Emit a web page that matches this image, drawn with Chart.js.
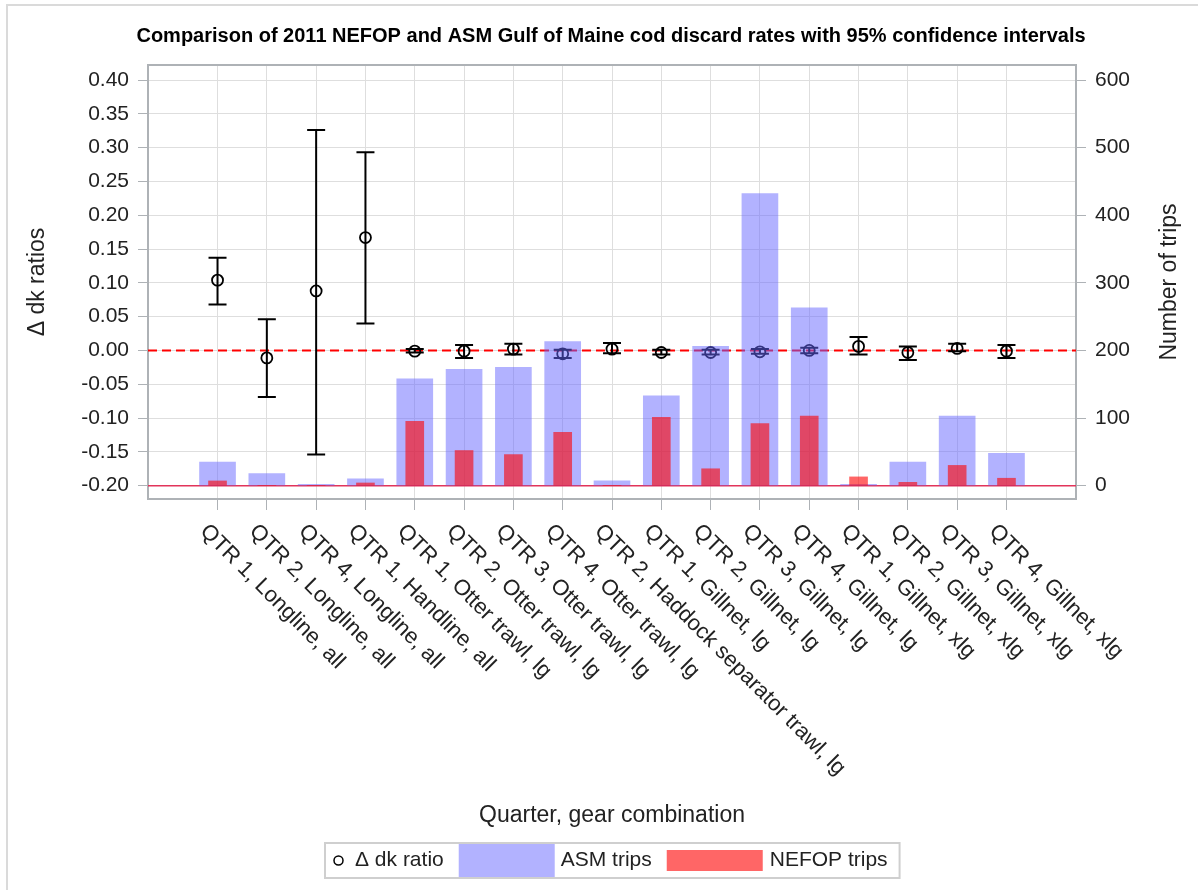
<!DOCTYPE html>
<html lang="en">
<head>
  <meta charset="UTF-8">
  <title>GOM cod discard rates, NEFOP vs ASM</title>
  <script src="https://cdn.jsdelivr.net/npm/chart.js"></script>
  <style>
    html, body { margin: 0; padding: 0; background: #fff; }
    #wrap { width: 1198px; height: 890px; }
  </style>
</head>
<body>
  <div id="wrap"><canvas id="discardChart" width="1198" height="890"></canvas></div>

  <script>
    // Quarter / gear combinations (x axis)
    const categories = [
      'QTR 1, Longline, all', 'QTR 2, Longline, all', 'QTR 4, Longline, all',
      'QTR 1, Handline, all', 'QTR 1, Otter trawl, lg', 'QTR 2, Otter trawl, lg',
      'QTR 3, Otter trawl, lg', 'QTR 4, Otter trawl, lg', 'QTR 2, Haddock separator trawl, lg',
      'QTR 1, Gillnet, lg', 'QTR 2, Gillnet, lg', 'QTR 3, Gillnet, lg', 'QTR 4, Gillnet, lg',
      'QTR 1, Gillnet, xlg', 'QTR 2, Gillnet, xlg', 'QTR 3, Gillnet, xlg', 'QTR 4, Gillnet, xlg'
    ];

    // delta dk ratio with 95% CI (left axis)
    const dkRatio = [0.104, -0.011, 0.088, 0.167, -0.001, -0.001, 0.002, -0.005, 0.002,
                     -0.003, -0.003, -0.002, 0.000, 0.006, -0.003, 0.003, -0.001];
    const dkLower = [0.068, -0.069, -0.154, 0.040, -0.003, -0.011, -0.006, -0.011, -0.004,
                     -0.006, -0.006, -0.005, -0.004, -0.006, -0.014, -0.001, -0.011];
    const dkUpper = [0.137, 0.046, 0.326, 0.293, 0.002, 0.008, 0.010, 0.001, 0.011,
                     0.001, 0.001, 0.002, 0.004, 0.020, 0.006, 0.010, 0.008];

    // number of trips (right axis)
    const asmTrips   = [35, 18, 2, 10, 158, 172, 175, 213, 7, 133, 206, 432, 263, 2, 35, 103, 48];
    const nefopTrips = [7, 0, 0, 4, 95, 52, 46, 79, 0, 101, 25, 92, 103, 13, 5, 30, 11];

    // tick labels
    const ratioTicks = [-0.20, -0.15, -0.10, -0.05, 0.00, 0.05, 0.10, 0.15, 0.20, 0.25, 0.30, 0.35, 0.40];
    const tripTicks = [0, 100, 200, 300, 400, 500, 600];

    const FONT = '"Liberation Sans", Arial, sans-serif';
    const TEXT = '#222';
    const FRAME = '#aeb2b6';
    const GRID = '#dedede';

    Chart.defaults.font.family = FONT;
    Chart.defaults.color = TEXT;

    // error bars, reference lines, rotated labels, right title and legend box
    const decorations = {
      id: 'decorations',
      beforeDraw(chart) {
        const ctx = chart.ctx;
        ctx.save();
        ctx.fillStyle = '#fff';
        ctx.fillRect(0, 0, chart.width, chart.height);
        ctx.strokeStyle = '#dadada';
        ctx.lineWidth = 2;
        ctx.beginPath();
        ctx.moveTo(7, chart.height);
        ctx.lineTo(7, 5);
        ctx.lineTo(chart.width, 5);
        ctx.stroke();
        ctx.restore();
      },
      beforeDatasetsDraw(chart) {
        const { ctx, chartArea: a, scales: { x, y, y2 } } = chart;
        ctx.save();

        // dashed line at zero difference
        const y0 = y.getPixelForValue(0);
        ctx.strokeStyle = '#ff0000';
        ctx.lineWidth = 2;
        ctx.setLineDash([9, 5]);
        ctx.beginPath();
        ctx.moveTo(a.left, y0);
        ctx.lineTo(a.right, y0);
        ctx.stroke();
        ctx.setLineDash([]);

        // solid line at zero trips
        const yb = y2.getPixelForValue(0);
        ctx.strokeStyle = '#e2345a';
        ctx.lineWidth = 1.5;
        ctx.beginPath();
        ctx.moveTo(a.left, yb);
        ctx.lineTo(a.right, yb);
        ctx.stroke();

        // 95% confidence intervals
        ctx.strokeStyle = '#000';
        ctx.lineWidth = 2;
        dkLower.forEach((lo, i) => {
          const px = x.getPixelForValue(i);
          const pLo = y.getPixelForValue(lo);
          const pHi = y.getPixelForValue(dkUpper[i]);
          ctx.beginPath();
          ctx.moveTo(px, pHi);
          ctx.lineTo(px, pLo);
          ctx.moveTo(px - 9, pHi);
          ctx.lineTo(px + 9, pHi);
          ctx.moveTo(px - 9, pLo);
          ctx.lineTo(px + 9, pLo);
          ctx.stroke();
        });
        ctx.restore();
      },
      afterDraw(chart) {
        const { ctx, chartArea: a, scales } = chart;
        ctx.save();

        // top edge of the plot frame
        ctx.strokeStyle = FRAME;
        ctx.lineWidth = 2;
        ctx.beginPath();
        ctx.moveTo(a.left, a.top);
        ctx.lineTo(a.right, a.top);
        ctx.stroke();

        // category labels, rotated 45 degrees clockwise
        ctx.fillStyle = TEXT;
        ctx.font = '22px ' + FONT;
        ctx.textAlign = 'left';
        ctx.textBaseline = 'middle';
        categories.forEach((label, i) => {
          const px = scales.x.getPixelForValue(i);
          ctx.save();
          ctx.translate(px - 14, a.bottom + 29);
          ctx.rotate(Math.PI / 4);
          ctx.fillText(label, 0, 0);
          ctx.restore();
        });

        // right axis title, reading bottom to top
        ctx.save();
        ctx.font = '23px ' + FONT;
        ctx.textAlign = 'center';
        ctx.translate(scales.y2.right - 28, (a.top + a.bottom) / 2);
        ctx.rotate(-Math.PI / 2);
        ctx.fillText('Number of trips', 0, 0);
        ctx.restore();

        // legend
        const ds = chart.data.datasets;
        ctx.font = '21px ' + FONT;
        const tw = ds.map(d => ctx.measureText(d.label).width);
        const swatchW = 96;
        const boxW = 9 + 9 + 12 + tw[0] + 15 + swatchW + 6 + tw[1] + 15 + swatchW + 7 + tw[2] + 12;
        const boxH = 35;
        const bx = Math.round((a.left + a.right) / 2 - boxW / 2);
        const by = chart.height - 47;
        const cy = by + boxH / 2;

        let cx = bx + 9;
        ctx.strokeStyle = '#000';
        ctx.lineWidth = 1.5;
        ctx.beginPath();
        ctx.arc(cx + 4.5, cy, 4.5, 0, Math.PI * 2);
        ctx.stroke();
        cx += 9 + 12;
        ctx.fillStyle = TEXT;
        ctx.fillText(ds[0].label, cx, cy);
        cx += tw[0] + 15;

        ctx.fillStyle = ds[1].backgroundColor;
        ctx.fillRect(cx, by + 1, swatchW, boxH - 2);
        cx += swatchW + 6;
        ctx.fillStyle = TEXT;
        ctx.fillText(ds[1].label, cx, cy);
        cx += tw[1] + 15;

        ctx.fillStyle = ds[2].backgroundColor;
        ctx.fillRect(cx, cy - 10.5, swatchW, 21);
        cx += swatchW + 7;
        ctx.fillStyle = TEXT;
        ctx.fillText(ds[2].label, cx, cy);

        ctx.strokeStyle = '#cfcfcf';
        ctx.lineWidth = 2;
        ctx.strokeRect(bx, by, boxW, boxH);

        ctx.restore();
      }
    };

    const config = {
      type: 'bar',
      data: {
        datasets: [
          {
            type: 'line',
            label: 'Δ dk ratio',
            data: dkRatio.map((v, i) => ({ x: i, y: v })),
            showLine: false,
            pointStyle: 'circle',
            pointRadius: 5.5,
            pointBorderWidth: 1.8,
            pointBorderColor: '#000',
            pointBackgroundColor: 'rgba(0,0,0,0)',
            yAxisID: 'y',
            order: 3
          },
          {
            type: 'bar',
            label: 'ASM trips',
            data: asmTrips.map((v, i) => ({ x: i, y: v })),
            backgroundColor: 'rgba(102,102,255,0.5)',
            barThickness: 36,
            grouped: false,
            yAxisID: 'y2',
            order: 2
          },
          {
            type: 'bar',
            label: 'NEFOP trips',
            data: nefopTrips.map((v, i) => ({ x: i, y: v })),
            backgroundColor: 'rgba(255,0,0,0.6)',
            barThickness: 18,
            grouped: false,
            yAxisID: 'y2',
            order: 1
          }
        ]
      },
      options: {
        responsive: false,
        animation: false,
        layout: { padding: { left: 24, right: 0, top: 0, bottom: 50 } },
        plugins: {
          legend: { display: false },
          tooltip: { enabled: false },
          title: {
            display: true,
            text: 'Comparison of 2011 NEFOP and ASM Gulf of Maine cod discard rates with 95% confidence intervals',
            color: '#000',
            font: { size: 20, weight: 'bold' },
            padding: { top: 24, bottom: 17 }
          }
        },
        scales: {
          x: {
            type: 'linear',
            min: -1.41,
            max: 17.41,
            offset: false,
            afterBuildTicks: scale => { scale.ticks = categories.map((c, i) => ({ value: i })); },
            afterFit: scale => { scale.height = 341; },
            ticks: { display: false },
            grid: { offset: false, color: GRID, tickColor: FRAME, tickLength: 11 },
            border: { color: FRAME, width: 2 },
            title: {
              display: true,
              text: 'Quarter, gear combination',
              font: { size: 23 },
              padding: { top: 0, bottom: 11 }
            }
          },
          y: {
            type: 'linear',
            position: 'left',
            min: -0.2197,
            max: 0.4222,
            afterBuildTicks: scale => { scale.ticks = ratioTicks.map(v => ({ value: v })); },
            afterFit: scale => { scale.width = 124; },
            ticks: {
              font: { size: 21 },
              padding: 9,
              callback: v => (Math.abs(v) < 1e-9 ? 0 : v).toFixed(2)
            },
            grid: { color: GRID, tickColor: FRAME, tickLength: 10 },
            border: { color: FRAME, width: 2 },
            title: {
              display: true,
              text: 'Δ dk ratios',
              font: { size: 23 },
              padding: { top: 0, bottom: 0 }
            }
          },
          y2: {
            type: 'linear',
            position: 'right',
            min: -19.7,
            max: 622.2,
            afterBuildTicks: scale => { scale.ticks = tripTicks.map(v => ({ value: v })); },
            afterFit: scale => { scale.width = 122; },
            ticks: { font: { size: 21 }, padding: 9 },
            grid: { drawOnChartArea: false, tickColor: FRAME, tickLength: 10 },
            border: { color: FRAME, width: 2 }
          }
        }
      },
      plugins: [decorations]
    };

    new Chart(document.getElementById('discardChart'), config);
  </script>
</body>
</html>
